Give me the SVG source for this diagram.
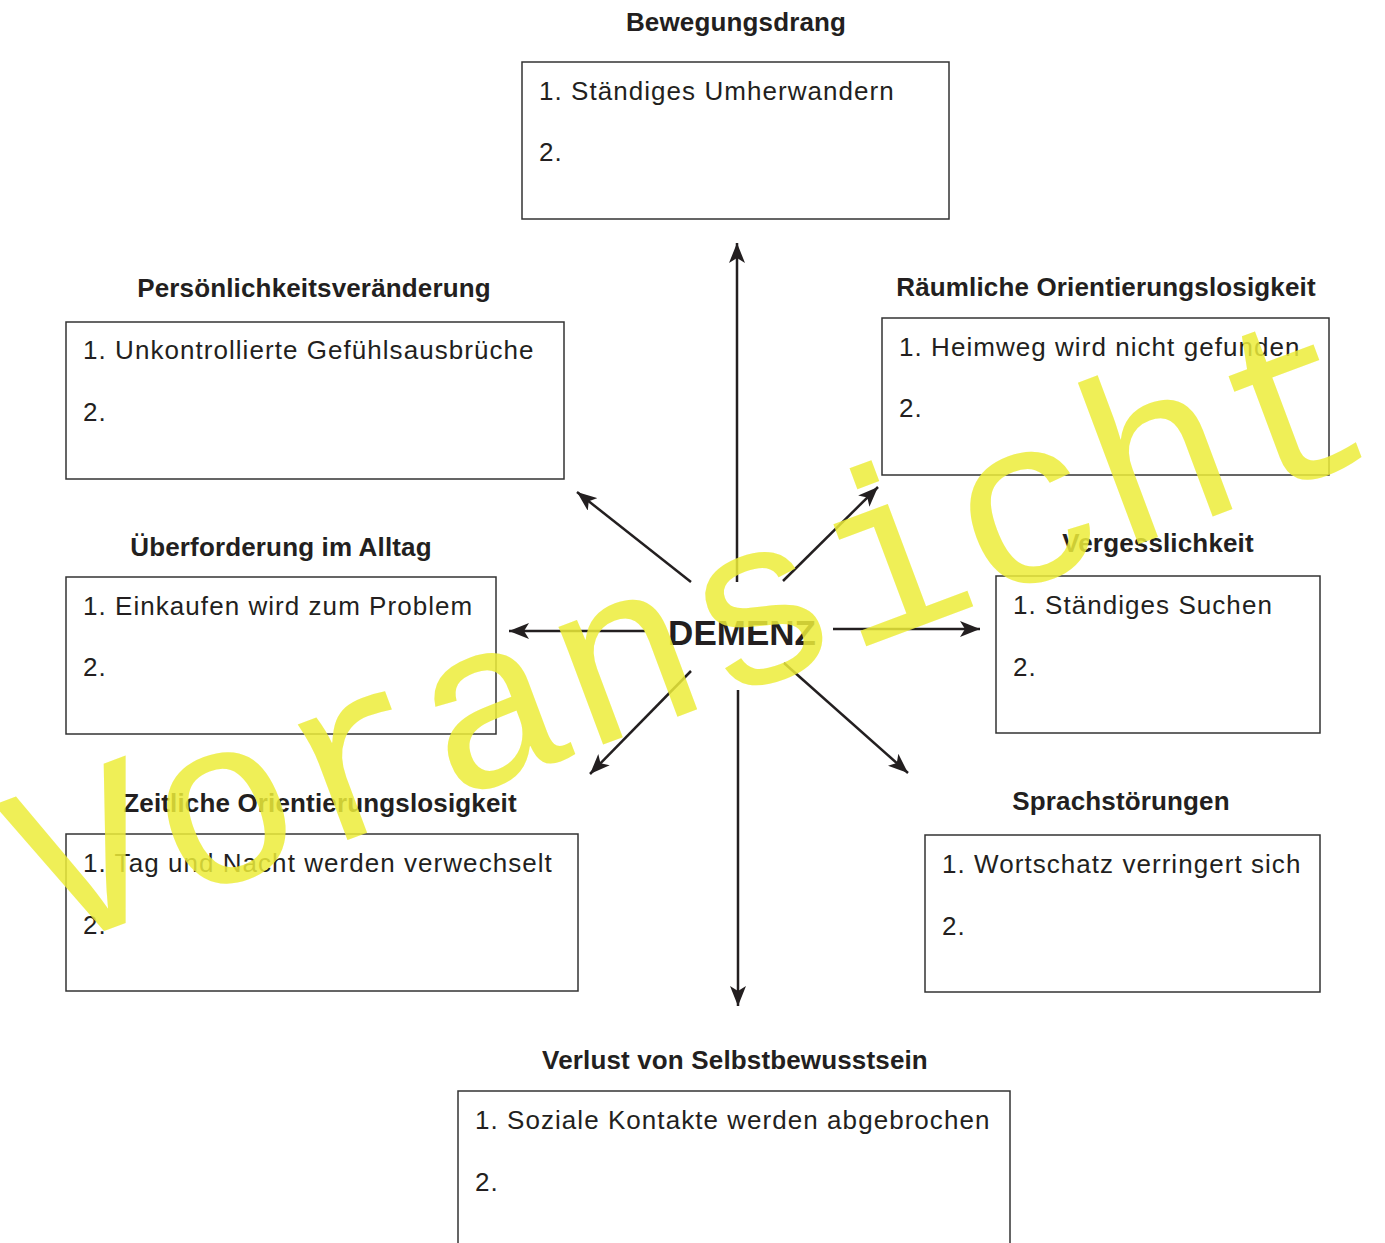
<svg xmlns="http://www.w3.org/2000/svg" width="1385" height="1243" viewBox="0 0 1385 1243">
<style>
.box{fill:#fff;stroke:#333;stroke-width:1.5}
.title{font-family:"Liberation Sans",Arial,sans-serif;font-weight:bold;font-size:26px;fill:#231f20;text-anchor:middle;letter-spacing:0.15px}
.item{font-family:"Liberation Sans",Arial,sans-serif;font-size:26px;fill:#231f20;letter-spacing:1.05px}
.con{stroke:#231f20;stroke-width:2.5;fill:none}
.wm{font-family:"Liberation Mono","Courier New",monospace;font-size:238px;fill:#ecec3a;fill-opacity:0.85}
</style>
<defs>
<marker id="ah" markerUnits="userSpaceOnUse" markerWidth="22" markerHeight="16" refX="20" refY="8" orient="auto">
<path d="M0,0 L20,8 L0,16 L5,8 z" fill="#231f20"/>
</marker>
</defs>
<rect width="1385" height="1243" fill="#fff"/>
<g id="connectors">
<line class="con" x1="737" y1="582" x2="737" y2="243" marker-end="url(#ah)"/>
<line class="con" x1="738" y1="690" x2="738" y2="1006" marker-end="url(#ah)"/>
<line class="con" x1="645" y1="631" x2="509" y2="631" marker-end="url(#ah)"/>
<line class="con" x1="833" y1="629" x2="980" y2="629" marker-end="url(#ah)"/>
<line class="con" x1="691" y1="582" x2="577" y2="492" marker-end="url(#ah)"/>
<line class="con" x1="783" y1="581" x2="878" y2="487" marker-end="url(#ah)"/>
<line class="con" x1="691" y1="671" x2="590" y2="774" marker-end="url(#ah)"/>
<line class="con" x1="784" y1="663" x2="908" y2="773" marker-end="url(#ah)"/>
</g>
<g id="center">
<text x="742" y="645" font-family="Liberation Sans,Arial,sans-serif" font-weight="bold" font-size="35" fill="#231f20" text-anchor="middle">DEMENZ</text>
</g>
<g id="bewegungsdrang">
<text class="title" x="736" y="31">Bewegungsdrang</text>
<rect class="box" x="522" y="62" width="427" height="157"/>
<text class="item" x="539" y="100">1. Ständiges Umherwandern</text>
<text class="item" x="539" y="161">2.</text>
</g>
<g id="persoenlichkeit">
<text class="title" x="314" y="297">Persönlichkeitsveränderung</text>
<rect class="box" x="66" y="322" width="498" height="157"/>
<text class="item" x="83" y="359">1. Unkontrollierte Gefühlsausbrüche</text>
<text class="item" x="83" y="421">2.</text>
</g>
<g id="raeumlich">
<text class="title" x="1106" y="296">Räumliche Orientierungslosigkeit</text>
<rect class="box" x="882" y="318" width="447" height="157"/>
<text class="item" x="899" y="356">1. Heimweg wird nicht gefunden</text>
<text class="item" x="899" y="417">2.</text>
</g>
<g id="ueberforderung">
<text class="title" x="281" y="556">Überforderung im Alltag</text>
<rect class="box" x="66" y="577" width="430" height="157"/>
<text class="item" x="83" y="615">1. Einkaufen wird zum Problem</text>
<text class="item" x="83" y="676">2.</text>
</g>
<g id="vergesslichkeit">
<text class="title" x="1158" y="552">Vergesslichkeit</text>
<rect class="box" x="996" y="576" width="324" height="157"/>
<text class="item" x="1013" y="614">1. Ständiges Suchen</text>
<text class="item" x="1013" y="676">2.</text>
</g>
<g id="zeitlich">
<text class="title" x="320" y="812">Zeitliche Orientierungslosigkeit</text>
<rect class="box" x="66" y="834" width="512" height="157"/>
<text class="item" x="83" y="872">1. Tag und Nacht werden verwechselt</text>
<text class="item" x="83" y="934">2.</text>
</g>
<g id="sprache">
<text class="title" x="1121" y="810">Sprachstörungen</text>
<rect class="box" x="925" y="835" width="395" height="157"/>
<text class="item" x="942" y="873">1. Wortschatz verringert sich</text>
<text class="item" x="942" y="935">2.</text>
</g>
<g id="verlust">
<text class="title" x="735" y="1069">Verlust von Selbstbewusstsein</text>
<rect class="box" x="458" y="1091" width="552" height="170"/>
<text class="item" x="475" y="1129">1. Soziale Kontakte werden abgebrochen</text>
<text class="item" x="475" y="1191">2.</text>
</g>
<text class="wm" transform="translate(48,952) rotate(-20.5)" x="0" y="0">Voransicht</text>
</svg>
